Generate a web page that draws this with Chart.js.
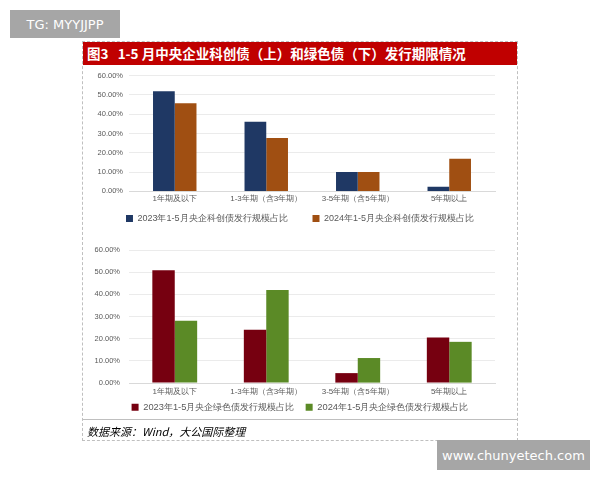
<!DOCTYPE html>
<html>
<head>
<meta charset="utf-8">
<script src="https://cdn.jsdelivr.net/npm/chart.js@4"></script>
<style>
  body { margin: 0; background: #fff; width: 600px; height: 480px; position: relative; overflow: hidden; font-family: "Noto Sans CJK SC", sans-serif; }
  .tag { position: absolute; background: #a6a6a6; color: #fff; font-family: "DejaVu Sans", sans-serif; font-size: 13px; display: flex; align-items: center; justify-content: center; }
  #panel { position: absolute; left: 82px; top: 41px; width: 434px; height: 398px; border: 1px dashed #bfbfbf; }
  #title { position: absolute; left: 0; top: 0; width: 434px; height: 23px; background: #c00000; color: #fff; font-weight: bold; font-size: 13.5px; line-height: 23px; padding-left: 4px; box-sizing: border-box; white-space: nowrap; }
  .box { position: absolute; left: 0; width: 434px; }
  #foot { position: absolute; left: 0; top: 377px; width: 434px; border-top: 1px solid #bfbfbf; }
  #src { position: absolute; left: 4px; top: 381px; font-size: 11px; font-style: italic; color: #000; }
</style>
</head>
<body>
<div class="tag" style="left:10px;top:10px;width:110px;height:28px;">TG: MYYJJPP</div>
<div id="panel">
  <div id="title">图3&nbsp;&nbsp;&nbsp;1-5 月中央企业科创债（上）和绿色债（下）发行期限情况</div>
  <div class="box" style="top:23px;height:168px;"><canvas id="graph1"></canvas></div>
  <div class="box" style="top:191px;height:189px;"><canvas id="graph2"></canvas></div>
  <div id="foot"></div>
  <div id="src">数据来源：Wind，大公国际整理</div>
</div>
<div class="tag" style="left:437px;top:440px;width:153px;height:30px;">www.chunyetech.com</div>
<script>
// catégories (durées)
var categories = ['1年期及以下', '1-3年期（含3年期）', '3-5年期（含5年期）', '5年期以上']

//科创债 (haut)
var kcLabel2023 = '2023年1-5月央企科创债发行规模占比'
var kcLabel2024 = '2024年1-5月央企科创债发行规模占比'
var kc2023 = [51.9, 36.0, 10.0, 2.4]
var kc2024 = [45.6, 27.7, 10.0, 16.9]

// 绿色债 (bas)
var lsLabel2023 = '2023年1-5月央企绿色债发行规模占比'
var lsLabel2024 = '2024年1-5月央企绿色债发行规模占比'
var ls2023 = [50.9, 24.1, 4.5, 20.5]
var ls2024 = [28.1, 42.0, 11.3, 18.6]

var yTicks = [0, 10, 20, 30, 40, 50, 60]

function makeConfig(lab1, d1, c1, lab2, d2, c2, o) {
    return {
        type: 'bar',
        data: {
            labels: categories,
            datasets: [
                { label: lab1, data: d1, backgroundColor: c1, barPercentage: 1, categoryPercentage: o.cat },
                { label: lab2, data: d2, backgroundColor: c2, barPercentage: 1, categoryPercentage: o.cat }
            ]
        },
        options: {
            responsive: true,
            maintainAspectRatio: false,
            animation: false,
            layout: { padding: { left: 0, right: 0, top: o.top, bottom: 0 } },
            plugins: {
                tooltip: { enabled: false },
                legend: {
                    position: 'bottom',
                    labels: {
                        boxWidth: 7, boxHeight: 7, font: { size: o.legFont }, color: '#595959', padding: o.legPad,
                        generateLabels: function (chart) {
                            var items = Chart.defaults.plugins.legend.labels.generateLabels(chart)
                            items[0].text += o.gap // écart entre les deux légendes
                            return items
                        }
                    }
                }
            },
            scales: {
                x: {
                    grid: { display: false, drawTicks: false },
                    border: { color: '#d9d9d9' },
                    ticks: { font: { size: 8 }, color: '#595959', maxRotation: 0, padding: o.xPad },
                    afterFit: function (s) { s.paddingRight = 22 }
                },
                y: {
                    min: 0, max: 60,
                    afterBuildTicks: function (s) { s.ticks = yTicks.map(function (v) { return { value: v } }) },
                    afterFit: function (s) { s.width = 46 },
                    grid: { color: '#ebebeb', drawTicks: false },
                    border: { display: false },
                    ticks: {
                        font: { size: 7.5 }, color: '#595959', padding: o.yPad,
                        callback: function (v) { return v.toFixed(2) + '%' }
                    }
                }
            }
        }
    }
}

/* Création des graphs */
var graph1 = new Chart(document.getElementById('graph1'),
    makeConfig(kcLabel2023, kc2023, '#1f3864', kcLabel2024, kc2024, '#a04f12',
        { cat: 0.475, top: 3.5, legFont: 9, legPad: 7, gap: '\u2003\u2003', yPad: 6, xPad: 3 }))
var graph2 = new Chart(document.getElementById('graph2'),
    makeConfig(lsLabel2023, ls2023, '#760010', lsLabel2024, ls2024, '#5b8a26',
        { cat: 0.49, top: 17, legFont: 9.3, legPad: 2, gap: '\u2003', yPad: 9, xPad: 4 }))
</script>
</body>
</html>
